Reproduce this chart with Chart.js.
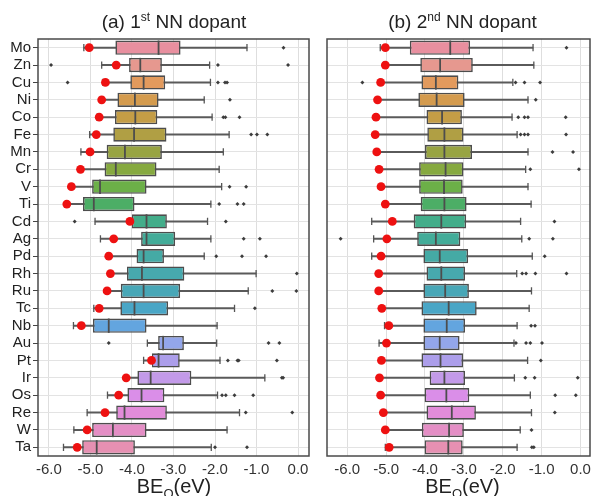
<!DOCTYPE html>
<html>
<head>
<meta charset="utf-8">
<script src="https://cdn.jsdelivr.net/npm/chart.js@4.4.0/dist/chart.umd.min.js"></script>
<style>
  body { margin: 0; background: #fff; }
  #wrap { position: relative; width: 599px; height: 496px; overflow: hidden; font-family: "Liberation Sans", Arial, sans-serif; color: #222; }
  canvas { position: absolute; top: 0; }
  .ttl { position: absolute; text-align: center; font-size: 19px; line-height: 22px; white-space: nowrap; }
  .ttl sup { font-size: 12px; line-height: 0; }
  .xl { position: absolute; text-align: center; font-size: 20px; line-height: 22px; white-space: nowrap; }
  .xl sub { font-size: 13px; line-height: 0; }
</style>
</head>
<body>
<div id="wrap">
  <canvas id="chartA" width="318" height="496" style="left:0"></canvas>
  <canvas id="chartB" width="281" height="496" style="left:318px"></canvas>
  <div class="ttl" style="left:38px; width:272px; top:11px">(a) 1<sup>st</sup> NN dopant</div>
  <div class="ttl" style="left:327px; width:271px; top:11px">(b) 2<sup>nd</sup> NN dopant</div>
  <div class="xl" style="left:38px; width:272px; top:475px">BE<sub>O</sub>(eV)</div>
  <div class="xl" style="left:327px; width:271px; top:475px">BE<sub>O</sub>(eV)</div>
</div>
<script>
// dopants, top to bottom
var dopants = ["Mo", "Zn", "Cu", "Ni", "Co", "Fe", "Mn", "Cr", "V", "Ti", "Cd", "Ag", "Pd", "Rh", "Ru", "Tc", "Nb", "Au", "Pt", "Ir", "Os", "Re", "W", "Ta"];

var boxColors = ["#e88f9f", "#e6988f", "#e29a5d", "#d49b4e", "#c49d46", "#b09f44", "#98a442", "#86a940",
                 "#6cb048", "#4cae66", "#43ad8a", "#43ac99", "#45aaa5", "#47a9ae", "#48a7b7", "#4aa6c6",
                 "#63a5df", "#93a6ea", "#ac9eea", "#c39ae9", "#da8ee8", "#e28cd9", "#e48ec5", "#e690b2"];

var xTicks = [-6, -5, -4, -3, -2, -1, 0];

// ---------------- (a) 1st NN dopant
var aLo  = [-5.16, -4.73, -4.70, -4.76, -4.84, -5.02, -5.23, -5.26, -5.48, -5.58, -4.89, -4.76, -4.60, -4.55, -4.62, -4.92, -5.41, -3.63, -3.72, -4.16, -4.59, -5.08, -5.40, -5.65];
var aQ1  = [-4.40, -4.07, -4.04, -4.35, -4.41, -4.45, -4.61, -4.66, -4.96, -5.18, -4.00, -3.78, -3.89, -4.12, -4.27, -4.28, -4.94, -3.37, -3.52, -3.87, -4.11, -4.38, -4.96, -5.20];
var aMed = [-3.36, -3.80, -3.72, -3.93, -3.92, -3.95, -4.17, -4.39, -4.77, -4.92, -3.65, -3.65, -3.72, -3.76, -3.72, -3.94, -4.56, -3.25, -3.36, -3.55, -3.77, -4.18, -4.46, -4.85];
var aQ3  = [-2.83, -3.28, -3.20, -3.36, -3.39, -3.17, -3.28, -3.41, -3.65, -3.94, -3.16, -2.96, -3.23, -2.74, -2.84, -3.13, -3.65, -2.75, -2.85, -2.57, -3.22, -3.16, -3.65, -3.93];
var aHi  = [-1.23, -2.13, -2.11, -2.26, -2.07, -1.66, -1.80, -1.90, -1.84, -2.10, -2.18, -2.10, -2.26, -1.01, -1.20, -1.53, -1.95, -1.96, -1.88, -0.80, -1.94, -1.41, -1.71, -2.09];
var aOut = [[-0.35], [-5.95, -1.93, -0.24], [-5.55, -1.93, -1.76, -1.71], [-1.64], [-1.80, -1.75, -1.41],
            [-1.13, -0.99, -0.74], [], [], [-1.65, -1.25], [-1.90, -1.46, -1.31], [-5.38, -1.74],
            [-1.31, -0.92], [-1.97, -1.35, -0.77], [-0.03], [-0.62, -0.04], [-1.04], [],
            [-4.56, -0.71, -0.45], [-1.69, -1.46, -1.43, -0.51], [-0.39, -0.36], [-1.83, -1.74, -1.53, -1.08],
            [-1.26, -0.14], [], [-2.00, -1.23]];
// no red marker for Au in this panel
var aDopant = [-5.03, -4.38, -4.64, -4.73, -4.79, -4.86, -5.01, -5.24, -5.46, -5.57, -4.05, -4.44, -4.56, -4.52, -4.60, -4.79, -5.22, null, -3.53, -4.14, -4.32, -4.65, -5.08, -5.32];

// ---------------- (b) 2nd NN dopant
var bLo  = [-5.15, -5.05, -5.16, -5.24, -5.28, -5.30, -5.26, -5.20, -5.15, -5.04, -5.37, -5.32, -5.37, -5.21, -5.21, -5.13, -5.04, -5.18, -5.14, -5.19, -5.16, -5.09, -5.04, -5.02];
var bQ1  = [-4.39, -4.12, -4.09, -4.17, -3.96, -3.94, -4.00, -4.15, -4.15, -4.11, -4.29, -4.20, -4.04, -3.96, -4.04, -4.09, -4.04, -4.04, -4.09, -3.88, -4.01, -3.96, -4.08, -4.01];
var bMed = [-3.35, -3.61, -3.72, -3.70, -3.56, -3.50, -3.50, -3.47, -3.51, -3.50, -3.58, -3.72, -3.62, -3.58, -3.48, -3.39, -3.44, -3.62, -3.60, -3.50, -3.45, -3.31, -3.38, -3.40];
var bQ3  = [-2.84, -2.77, -3.14, -2.98, -3.05, -3.01, -2.79, -3.01, -3.03, -2.93, -2.94, -3.09, -2.89, -2.97, -2.87, -2.67, -2.97, -3.11, -3.02, -2.97, -2.86, -2.69, -3.00, -3.03];
var bHi  = [-1.22, -1.20, -1.74, -1.35, -1.76, -1.63, -1.35, -1.41, -1.35, -1.27, -1.54, -1.51, -1.24, -1.64, -1.26, -1.32, -1.63, -1.71, -1.36, -1.70, -1.29, -1.26, -1.55, -1.63];
var bOut = [[-0.36], [], [-5.61, -1.67, -1.44, -1.04], [-1.15], [-1.60, -1.44, -1.35, -0.38],
            [-1.54, -1.44, -1.35, -0.37], [-0.72, -0.19], [-1.29, -0.04], [], [], [-0.67],
            [-6.17, -1.32, -0.71], [-0.92], [-1.50, -1.40, -1.16, -0.36], [], [], [-1.27, -1.17],
            [-1.66, -1.40, -1.29, -0.99], [-1.02], [-1.42, -1.18, -0.07], [-0.65, -0.12],
            [-0.66], [-1.26], [-1.25, -1.20]];
var bDopant = [-5.02, -5.02, -5.14, -5.22, -5.26, -5.28, -5.24, -5.18, -5.13, -5.02, -4.84, -4.98, -5.13, -5.19, -5.19, -5.11, -4.93, -4.99, -5.12, -5.17, -5.14, -5.07, -5.02, -4.92];

Chart.defaults.font.family = "'Liberation Sans', Arial, sans-serif";
Chart.defaults.color = "#222";

var frame = {
    id: 'frame',
    afterDraw: function(chart) {
        var a = chart.chartArea, ctx = chart.ctx;
        ctx.save();
        ctx.strokeStyle = '#4a4a4a';
        ctx.lineWidth = 1.5;
        ctx.strokeRect(a.left, a.top, a.right - a.left, a.bottom - a.top);
        ctx.restore();
    }
};

function pts(vals) {
    var out = [];
    vals.forEach(function(v, i) { if (v !== null) out.push({x: v, y: dopants[i]}); });
    return out;
}

function makeChart(id, lo, q1, med, q3, hi, outl, dop, xmin, xmax, showLabels, pad) {
    var outPts = [];
    outl.forEach(function(list, i) {
        list.forEach(function(v) { outPts.push({x: v, y: dopants[i]}); });
    });
    var caps = pts(lo).concat(pts(hi));

    return new Chart(document.getElementById(id), {
        type: 'bar',
        data: {
            labels: dopants,
            datasets: [
                { type: 'scatter', data: pts(dop), pointStyle: 'circle', pointRadius: 4.4,
                  pointBackgroundColor: '#ee1111', pointBorderWidth: 0 },
                { type: 'scatter', data: pts(med), pointStyle: 'line', pointRotation: 90, pointRadius: 7.2,
                  pointBorderColor: '#4d4d4d', pointBorderWidth: 1.8 },
                { type: 'scatter', data: outPts, pointStyle: 'rectRot', pointRadius: 2,
                  pointBackgroundColor: '#3c3c3c', pointBorderWidth: 0 },
                { type: 'bar', data: q1.map(function(v, i) { return [v, q3[i]]; }),
                  backgroundColor: boxColors, borderColor: '#4d4d4d', borderWidth: 1.6,
                  borderSkipped: false, grouped: false, barPercentage: 0.82, categoryPercentage: 1 },
                { type: 'scatter', data: caps, pointStyle: 'line', pointRotation: 90, pointRadius: 3.6,
                  pointBorderColor: '#555', pointBorderWidth: 1.3 },
                { type: 'bar', data: lo.map(function(v, i) { return [v, hi[i]]; }),
                  backgroundColor: '#5a5a5a', borderWidth: 0, grouped: false, barThickness: 1.4 }
            ]
        },
        options: {
            indexAxis: 'y',
            responsive: false,
            animation: false,
            events: [],
            layout: { padding: pad },
            plugins: { legend: { display: false }, tooltip: { enabled: false } },
            scales: {
                x: {
                    type: 'linear', min: xmin, max: xmax,
                    afterBuildTicks: function(s) { s.ticks = xTicks.map(function(v) { return {value: v}; }); },
                    afterFit: function(s) { s.height = 30; },
                    border: { display: false },
                    grid: { color: '#dedede', lineWidth: 1, tickLength: 4, tickColor: 'rgba(0,0,0,0)' },
                    ticks: { font: { size: 15 }, color: '#333', padding: 1, maxRotation: 0,
                             callback: function(v) { return v.toFixed(1); } }
                },
                y: {
                    type: 'category',
                    afterFit: function(s) { s.width = showLabels ? 38 : 0; },
                    border: { display: false },
                    grid: { offset: false, color: '#e3e3e3', lineWidth: 1, drawTicks: showLabels,
                            tickLength: 5, tickColor: '#444' },
                    ticks: { display: showLabels, font: { size: 15 }, color: '#222', padding: 2, autoSkip: false }
                }
            }
        },
        plugins: [frame]
    });
}

makeChart('chartA', aLo, aQ1, aMed, aQ3, aHi, aOut, aDopant, -6.264, 0.264, true,
          { top: 39, right: 8, bottom: 10, left: 0 });
makeChart('chartB', bLo, bQ1, bMed, bQ3, bHi, bOut, bDopant, -6.52, 0.245, false,
          { top: 39, right: 2, bottom: 10, left: 9 });
</script>
</body>
</html>
